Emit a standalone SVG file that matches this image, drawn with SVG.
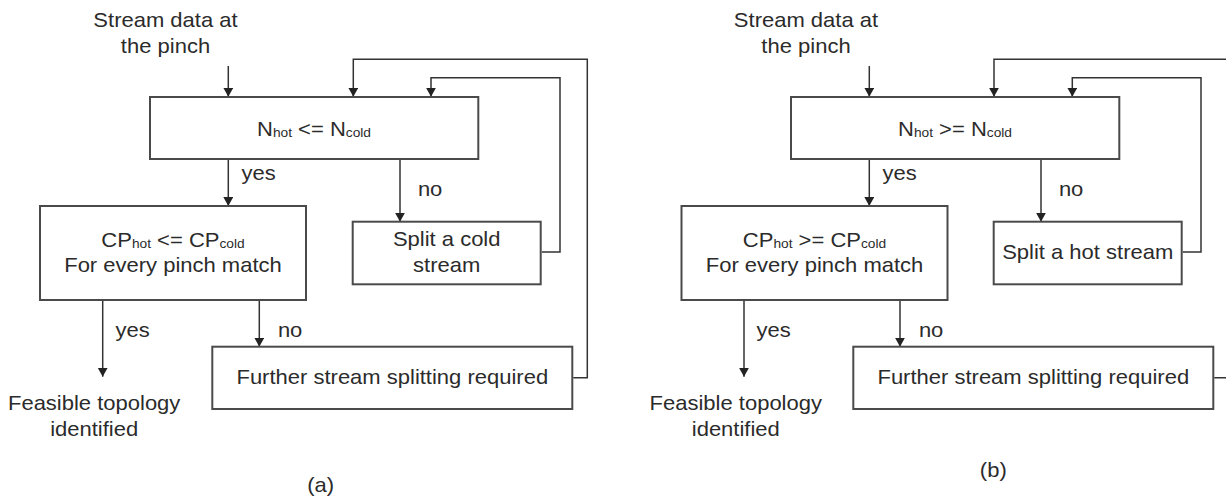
<svg xmlns="http://www.w3.org/2000/svg" width="1226" height="499" viewBox="0 0 1226 499">
<style>
.t { font-family: "Liberation Sans", Arial, sans-serif; font-size: 20px; fill: #2b2b2b; transform-box: fill-box; transform-origin: center; transform: scaleX(1.1); }
.c { text-anchor: middle; }
.sub { font-size: 12.5px; }
.box { fill: #ffffff; stroke: #4a4a4a; stroke-width: 2; }
.ln { fill: none; stroke: #333333; stroke-width: 1.5; }
.arr { marker-end: url(#ah); }
</style>
<defs>
<marker id="ah" markerWidth="10" markerHeight="11" refX="9" refY="5" orient="auto" markerUnits="userSpaceOnUse">
<path d="M0,0 L9,5 L0,10 z" fill="#222222"/>
</marker>
</defs>
<rect x="0" y="0" width="1226" height="499" fill="#ffffff"/>

<g id="connectors">
<!-- diagram (a) -->
<path class="ln arr" d="M228.3,66 V96.7"/>
<path class="ln arr" d="M573.3,377.7 H587.3 V59.3 H353.3 V96.7"/>
<path class="ln arr" d="M541.7,252 H560 V77.7 H431 V96.7"/>
<path class="ln arr" d="M228.3,159 V206"/>
<path class="ln arr" d="M400,159 V221.7"/>
<path class="ln arr" d="M102.7,300 V376.7"/>
<path class="ln arr" d="M259.3,300 V346.7"/>
<!-- diagram (b) -->
<path class="ln arr" d="M869.3,66 V96.7"/>
<path class="ln arr" d="M1214.3,377.7 H1228.3 V59.3 H994 V96.7"/>
<path class="ln arr" d="M1182.7,252 H1201 V77.7 H1072.3 V96.7"/>
<path class="ln arr" d="M869.3,159 V206"/>
<path class="ln arr" d="M1041,159 V221.7"/>
<path class="ln arr" d="M744,300 V376.7"/>
<path class="ln arr" d="M900,300 V346.7"/>
</g>

<g id="labels">
<text class="t" x="243" y="180.5">yes</text>
<text class="t" x="419" y="196">no</text>
<text class="t" x="117" y="336.7">yes</text>
<text class="t" x="279" y="336.7">no</text>
<text class="t" x="884" y="180.5">yes</text>
<text class="t" x="1060" y="196">no</text>
<text class="t" x="758" y="336.7">yes</text>
<text class="t" x="920" y="336.7">no</text>
</g>

<!-- diagram (a) nodes -->
<g id="a-start">
<text class="t c" x="165.5" y="27.3">Stream data at</text>
<text class="t c" x="165.5" y="53.3">the pinch</text>
</g>
<g id="a-nhot">
<rect class="box" x="150" y="97" width="328.3" height="62"/>
<text class="t c" x="314" y="136">N<tspan class="sub" dy="1.5">hot</tspan><tspan dy="-1.5"> &lt;= N</tspan><tspan class="sub" dy="1.5">cold</tspan></text>
</g>
<g id="a-cp">
<rect class="box" x="40" y="206" width="266" height="94"/>
<text class="t c" x="173" y="247">CP<tspan class="sub" dy="1.5">hot</tspan><tspan dy="-1.5"> &lt;= CP</tspan><tspan class="sub" dy="1.5">cold</tspan></text>
<text class="t c" x="173" y="272.3">For every pinch match</text>
</g>
<g id="a-split">
<rect class="box" x="352.7" y="221.7" width="188" height="62.6"/>
<text class="t c" x="446.7" y="246">Split a cold</text>
<text class="t c" x="446.7" y="271.7">stream</text>
</g>
<g id="a-further">
<rect class="box" x="212.3" y="346.7" width="360" height="62.3"/>
<text class="t c" x="392.3" y="384.5">Further stream splitting required</text>
</g>
<g id="a-feasible">
<text class="t c" x="94.2" y="410">Feasible topology</text>
<text class="t c" x="94.2" y="436">identified</text>
</g>
<g id="a-caption">
<text class="t c" x="320.7" y="492">(a)</text>
</g>

<!-- diagram (b) nodes -->
<g id="b-start">
<text class="t c" x="806" y="27.3">Stream data at</text>
<text class="t c" x="806" y="53.3">the pinch</text>
</g>
<g id="b-nhot">
<rect class="box" x="791" y="97" width="328.3" height="62"/>
<text class="t c" x="955" y="136">N<tspan class="sub" dy="1.5">hot</tspan><tspan dy="-1.5"> &gt;= N</tspan><tspan class="sub" dy="1.5">cold</tspan></text>
</g>
<g id="b-cp">
<rect class="box" x="681.5" y="206" width="266" height="94"/>
<text class="t c" x="814.5" y="247">CP<tspan class="sub" dy="1.5">hot</tspan><tspan dy="-1.5"> &gt;= CP</tspan><tspan class="sub" dy="1.5">cold</tspan></text>
<text class="t c" x="814.5" y="272.3">For every pinch match</text>
</g>
<g id="b-split">
<rect class="box" x="993.7" y="221.7" width="188" height="62.6"/>
<text class="t c" x="1087.7" y="259.5">Split a hot stream</text>
</g>
<g id="b-further">
<rect class="box" x="853.3" y="346.7" width="360" height="62.3"/>
<text class="t c" x="1033.3" y="384.5">Further stream splitting required</text>
</g>
<g id="b-feasible">
<text class="t c" x="735.8" y="410">Feasible topology</text>
<text class="t c" x="735.8" y="436">identified</text>
</g>
<g id="b-caption">
<text class="t c" x="993.3" y="477">(b)</text>
</g>
</svg>
